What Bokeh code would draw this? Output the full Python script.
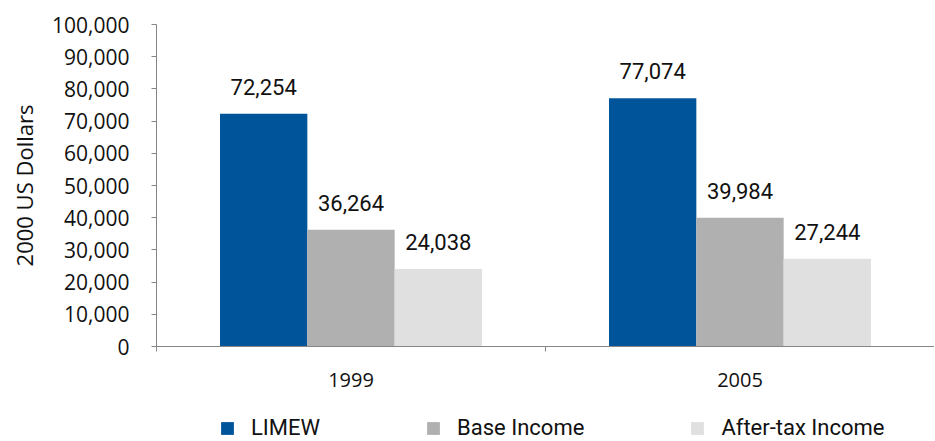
from bokeh.plotting import figure
from bokeh.layouts import column
from bokeh.models import (ColumnDataSource, FactorRange, Range1d, LinearAxis,
                          FixedTicker, SingleIntervalTicker, NumeralTickFormatter, Legend, LegendItem)
from bokeh.transform import dodge
from bokeh.core.properties import value
from bokeh.embed import file_html
from bokeh.resources import INLINE

# ---- data ----
categories = ["1999", "2005"]
series_names = ["LIMEW", "Base Income", "After-tax Income"]
limew = [72254, 77074]
base_income = [36264, 39984]
after_tax_income = [24038, 27244]
y_label = "2000 US Dollars"

colors = ["#00559A", "#B0B0B0", "#E0E0E0"]
fields = ["limew", "base", "after"]

source = ColumnDataSource(dict(
    cat=categories,
    limew=limew, base=base_income, after=after_tax_income,
    limew_lbl=[f"{v:,}" for v in limew],
    base_lbl=[f"{v:,}" for v in base_income],
    after_lbl=[f"{v:,}" for v in after_tax_income],
))

AXIS_COLOR = "#868686"
TEXT_COLOR = "#111111"
W = 934

x_range = FactorRange(factors=categories, range_padding=0, factor_padding=0)

p = figure(x_range=x_range, y_range=Range1d(0, 100000),
           width=W, height=400, output_backend="svg", toolbar_location=None,
           x_axis_location=None,
           min_border_left=156, min_border_top=24, min_border_bottom=54, min_border_right=0)
p.outline_line_color = None
p.xgrid.visible = False
p.ygrid.visible = False
p.background_fill_color = "white"
p.border_fill_color = "white"

# y axis
ya = p.yaxis[0]
ya.ticker = SingleIntervalTicker(interval=10000)
ya.formatter = NumeralTickFormatter(format="0,0")
ya.axis_line_color = AXIS_COLOR
ya.major_tick_line_color = AXIS_COLOR
ya.major_tick_out = 5
ya.major_tick_in = 0
ya.minor_tick_line_color = None
ya.major_label_standoff = 22
ya.major_label_text_font = "Open Sans"
ya.major_label_text_font_size = "21px"
ya.major_label_text_color = TEXT_COLOR
ya.axis_label = y_label
ya.axis_label_text_font = "Open Sans"
ya.axis_label_text_font_size = "22px"
ya.axis_label_text_font_style = "normal"
ya.axis_label_text_color = TEXT_COLOR
ya.axis_label_standoff = 10

# x axis: ticks at category boundaries, labels at category centres
# (numbers on a factor range are its synthetic coordinates: category i spans i..i+1)
n = len(categories)
xa = LinearAxis(ticker=FixedTicker(ticks=[i + 0.5 for i in range(n)],
                                   minor_ticks=list(range(n + 1))),
                major_label_overrides={i + 0.5: c for i, c in enumerate(categories)})
xa.axis_line_color = AXIS_COLOR
xa.major_tick_line_color = None
xa.major_tick_out = 5
xa.major_tick_in = 0
xa.minor_tick_line_color = AXIS_COLOR
xa.minor_tick_out = 5
xa.minor_tick_in = 0
xa.major_label_standoff = 21
xa.major_label_text_font = "Open Sans"
xa.major_label_text_font_size = "20px"
xa.major_label_text_color = TEXT_COLOR
p.add_layout(xa, "below")

# bars + labels
bw = 0.2245
offsets = [-bw, 0, bw]
for field, off, color in zip(fields, offsets, colors):
    p.vbar(x=dodge("cat", off, range=x_range), top=field, width=bw, source=source,
           fill_color=color, line_color=None)
    p.text(x=dodge("cat", off, range=x_range), y=field, text=field + "_lbl", source=source,
           text_align="center", text_baseline="alphabetic", y_offset=-27,
           text_font=value("Roboto"), text_font_size="22px", text_color=TEXT_COLOR)

# legend strip under the chart (its swatches come from the same series, hidden renderers)
lg = figure(x_range=x_range, y_range=Range1d(0, 100000), width=W, height=40,
            output_backend="svg", toolbar_location=None,
            x_axis_location=None, y_axis_location=None,
            min_border_left=0, min_border_right=0, min_border_top=0, min_border_bottom=0)
lg.outline_line_color = None
lg.grid.visible = False
lg.background_fill_color = "white"
lg.border_fill_color = "white"
items = []
for name, field, off, color in zip(series_names, fields, offsets, colors):
    r = lg.vbar(x=dodge("cat", off, range=x_range), top=field, width=bw, source=source,
                fill_color=color, line_color=None, visible=False)
    items.append(LegendItem(label=name, renderers=[r]))

legend = Legend(items=items, location=(63, 0), orientation="horizontal",
                glyph_width=16, glyph_height=16, label_standoff=16, spacing=105,
                padding=0, margin=0, border_line_color=None, background_fill_alpha=0,
                inactive_fill_alpha=0,
                label_text_font="Roboto", label_text_font_size="22px",
                label_text_color=TEXT_COLOR, label_height=20)
lg.add_layout(legend, "center")

layout = column(p, lg, spacing=0)
open("out.html", "w").write(file_html(layout, INLINE))
